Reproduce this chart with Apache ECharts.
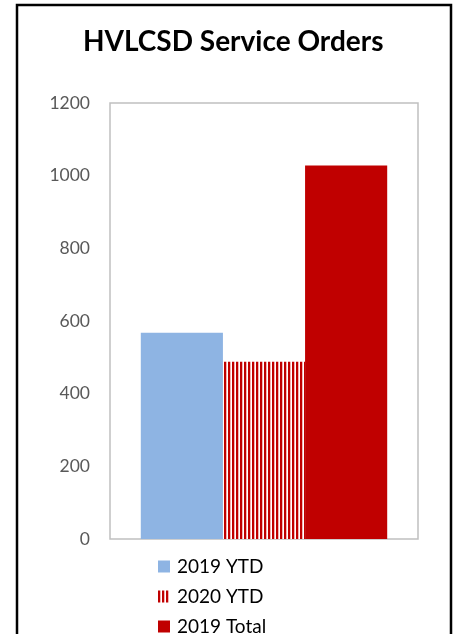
<!DOCTYPE html>
<html>
<head>
<meta charset="utf-8">
<script src="https://cdn.jsdelivr.net/npm/echarts@6/dist/echarts.min.js"></script>
<style>
html,body{margin:0;padding:0;background:#fff;}
#chart{width:456px;height:634px;}
</style>
</head>
<body>
<div id="chart"></div>
<script>
const chartTitle = 'HVLCSD Service Orders';
const categories = ['Service Orders'];
const seriesNames = ['2019 YTD', '2020 YTD', '2019 Total'];
const ytd2019 = [568];
const ytd2020 = [488];
const total2019 = [1028];
const yTicks = [0, 200, 400, 600, 800, 1000, 1200];

function stripePattern() {
  const c = document.createElement('canvas');
  c.width = 4; c.height = 4;
  const ctx = c.getContext('2d');
  ctx.fillStyle = '#ffffff'; ctx.fillRect(0, 0, 4, 4);
  ctx.fillStyle = '#C00000'; ctx.fillRect(0, 0, 2, 4);
  ctx.fillStyle = '#f3b3b3'; ctx.fillRect(2, 0, 1, 4);
  return c;
}

const chart = echarts.init(document.getElementById('chart'), null, {renderer: 'canvas'});
const font = 'Lato, "Open Sans", sans-serif';
chart.setOption({
  animation: false,
  backgroundColor: '#ffffff',
  title: {
    text: chartTitle,
    left: 83,
    top: 28,
    padding: 0,
    textStyle: {fontFamily: font, fontWeight: 'bold', fontSize: 28, color: '#000'}
  },
  graphic: [{
    type: 'rect',
    shape: {x: 17, y: 5, width: 434, height: 640},
    style: {fill: 'none', stroke: '#000', lineWidth: 2.5},
    silent: true
  }],
  grid: {
    left: 110, right: 38, top: 103, bottom: 95,
    show: true, borderColor: '#c0c0c0', borderWidth: 1.5, backgroundColor: 'transparent'
  },
  legend: {
    orient: 'vertical',
    left: 158, top: 557,
    height: 140,
    padding: 0,
    itemWidth: 12, itemHeight: 12, itemGap: 11,
    icon: 'rect',
    data: seriesNames,
    textStyle: {fontFamily: font, fontSize: 19, color: '#000', padding: [0, 0, 0, 2]}
  },
  xAxis: {
    type: 'category',
    data: categories,
    axisLine: {show: false}, axisTick: {show: false}, axisLabel: {show: false}
  },
  yAxis: {
    type: 'value',
    min: yTicks[0], max: yTicks[yTicks.length - 1], interval: 200,
    axisLine: {show: false}, axisTick: {show: false}, splitLine: {show: false},
    axisLabel: {fontFamily: font, fontSize: 17.5, color: '#595959', margin: 20,
      formatter: function (v) { return String(v); }}
  },
  series: [
    {name: seriesNames[0], type: 'bar', data: ytd2019, barGap: '0%', barCategoryGap: '20%',
     itemStyle: {color: '#8EB4E3'}},
    {name: seriesNames[1], type: 'bar', data: ytd2020, barGap: '0%', barCategoryGap: '20%',
     itemStyle: {color: {image: stripePattern(), repeat: 'repeat'}}},
    {name: seriesNames[2], type: 'bar', data: total2019, barGap: '0%', barCategoryGap: '20%',
     itemStyle: {color: '#C00000'}}
  ]
});
</script>
</body>
</html>
